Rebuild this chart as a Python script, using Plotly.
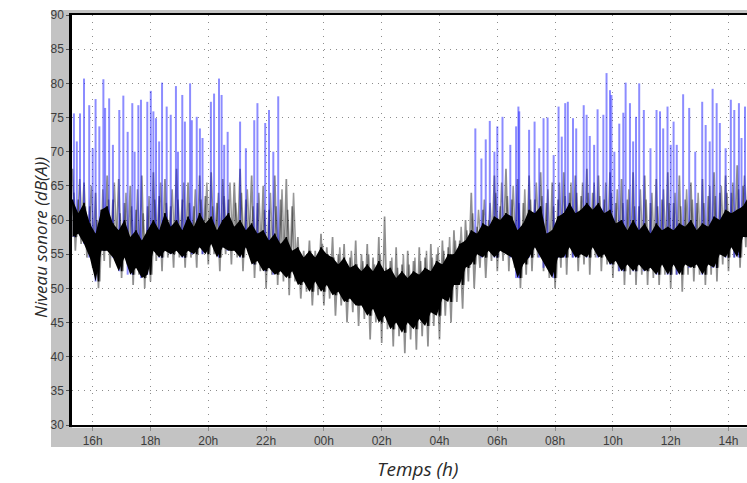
import plotly.graph_objects as go

# ---- Données ----
# grille temporelle (heures depuis minuit du 1er jour), pas de 0,2 h
heures = [round(15.3 + 0.2 * i, 1) for i in range(118)]

# bord inférieur du cœur noir (dB(A))
niveau_bas = [57.5, 58, 56.5, 54.5, 51, 55.5, 55.5, 54.5, 52.5, 54.5,
              52, 53, 51.5, 52, 55.5, 54.5, 55.5, 55, 55.5, 54.5,
              55.5, 55, 56, 55, 56.5, 54.5, 56, 55.5, 55.5, 54.5,
              56, 53.5, 54, 52.5, 53, 52, 52.5, 51.5, 52.5, 50.5,
              51, 49.5, 51, 49.5, 50.5, 49, 49.5, 48, 48.5, 47.5,
              47.5, 46, 47, 45, 46, 44, 45, 43.5, 45, 44,
              45.5, 44.5, 46.5, 46, 48.5, 48, 50.5, 50.5, 53, 53.5,
              55, 54.5, 55.5, 54.5, 55.5, 55, 54.5, 51.5, 53.5, 54.5,
              56, 54.5, 53, 51.5, 54.5, 54.5, 56, 54.5, 55, 54.5,
              56, 54.5, 55, 53.5, 54, 52.5, 53.5, 52.5, 53.5, 52.5,
              53, 52, 53.5, 52, 53.5, 52, 53.5, 53, 53.5, 52,
              53.5, 53, 55, 54.5, 56, 54.5, 57.5, 57.5]

# bord supérieur du cœur noir
niveau_haut = [63, 61, 62.5, 59.5, 58, 61.5, 62, 59.5, 58.5, 60,
               57.5, 58.5, 57, 58.5, 60, 58.5, 61, 59, 60, 58.5,
               60.5, 59, 61, 59.5, 60.5, 58.5, 60, 61, 59, 60,
               58.5, 59.5, 58, 58.5, 57, 58, 56.5, 57.5, 55.5, 56,
               54.5, 55.5, 54.5, 56, 55, 54.5, 53.5, 54.5, 53, 53.5,
               52.5, 53.5, 52.5, 54, 52.5, 53, 51.5, 52.5, 51.5, 52.5,
               52, 53, 52.5, 54, 53.5, 55, 55, 56.5, 57, 58.5,
               58, 59.5, 59, 60.5, 60, 61, 60.5, 58.5, 59.5, 61.5,
               61, 62, 58, 58.5, 60.5, 61, 62.5, 61, 61.5, 62.5,
               61.5, 62.5, 61, 61.5, 59.5, 60, 58.5, 60, 58.5, 59.5,
               58, 59.5, 58.5, 59, 58.5, 59.5, 59, 60, 58.5, 59.5,
               59, 60.5, 60, 61.5, 61, 61.5, 62, 63.5]

# pointes grises basses
pointe_basse = [55.5, 56.5, 54.5, 53, 50, 54, 53, 54, 51.5, 53.5,
                50.5, 52, 50, 51, 54, 52.5, 54.5, 53, 54.5, 53,
                54.5, 53, 55, 53.5, 55, 52.5, 55, 53.5, 54.5, 52.5,
                55, 51.5, 52.5, 50, 52, 50.5, 51, 49, 51, 48.5,
                49.5, 47.5, 49, 47.5, 48.5, 46, 47.5, 45, 46.5, 44.5,
                45.5, 42.5, 45, 42, 44, 41.5, 43, 40.5, 42.5, 41,
                43, 41.5, 44.5, 42.5, 46, 45, 48, 47, 51, 50,
                53, 51.5, 54, 52.5, 54, 52.5, 53, 50, 52, 52.5,
                54.5, 52.5, 51.5, 50, 53, 52, 54.5, 52.5, 53.5, 52,
                54.5, 52.5, 53.5, 51.5, 52.5, 50.5, 52, 50.5, 52, 50.5,
                51.5, 50.5, 52, 50, 52, 49.5, 52, 51, 52, 50.5,
                52, 51, 53.5, 52.5, 54.5, 53, 56, 55.5]

# pointes grises hautes
pointe_haute = [67.5, 63, 65.5, 62, 64, 61.5, 66.5, 63, 66, 62.5,
                65, 61.5, 66.5, 62, 67, 63.5, 66, 62, 67.5, 63,
                65.5, 62, 66.5, 63.5, 67, 62.5, 66, 63, 65.5, 67.5,
                63, 66.5, 62.5, 65, 61.5, 66.5, 63, 66, 62, 57.5,
                55.5, 57, 55.5, 58, 56, 57.5, 55, 56.5, 54.5, 57,
                55, 56.5, 54.5, 57.5, 60.5, 54, 56, 53.5, 55.5, 54,
                56, 54.5, 56.5, 55, 57, 56, 58.5, 57, 60, 64,
                59, 61.5, 60, 66.5, 62, 67.5, 63, 66, 62.5, 66.5,
                63, 67, 62.5, 65.5, 63, 67, 64, 66.5, 63.5, 67.5,
                64, 66.5, 63, 67, 62.5, 66, 63, 67, 62, 66.5,
                62.5, 66, 63, 67, 62.5, 66.5, 63, 65.5, 62.5, 66,
                63.5, 67, 64, 66.5, 64, 68, 65, 69]

# pointes grises intermédiaires
pointe_mi = [64, 66, 62, 65, 60, 64.5, 63, 65.5, 61, 64,
             62, 64.5, 61, 63.5, 63, 65.5, 62.5, 64.5, 63, 65.5,
             62.5, 64.5, 63, 65.5, 62, 64, 63.5, 65.5, 62.5, 64,
             64.5, 62, 64, 61.5, 64, 62, 64.5, 61.5, 64, 55,
             54, 55.5, 54.5, 56.5, 55, 54.5, 56, 54, 55.5, 53.5,
             54, 55, 53.5, 55, 53, 54.5, 53, 55, 53.5, 54.5,
             54, 55.5, 54.5, 56, 55.5, 57.5, 57, 59, 58.5, 61,
             61.5, 63, 62.5, 64, 65.5, 63.5, 65, 62.5, 64.5, 63,
             65.5, 63.5, 64.5, 62, 65.5, 63.5, 65.5, 64, 65.5, 64,
             65.5, 63.5, 65.5, 64, 64.5, 62.5, 64.5, 62, 64.5, 63,
             64, 62, 64.5, 62.5, 64, 62, 64.5, 63, 64, 62.5,
             65, 63.5, 65, 64, 65.5, 64.5, 66.5, 67]

# pics bleus (instant, niveau max)
bleu_t = [15.35, 15.56, 15.70, 15.88, 16.10, 16.23, 16.37, 16.43, 16.57, 16.92,
          17.06, 17.21, 17.37, 17.58, 17.67, 17.89, 18.01, 18.10, 18.19, 18.40,
          18.56, 18.70, 18.88, 19.10, 19.19, 19.37, 19.43, 19.60, 19.71, 20.09,
          20.20, 20.37, 20.46, 20.67, 21.10, 21.59, 21.70, 21.97, 22.10, 22.42,
          15.45, 16.00, 16.70, 17.45, 18.30, 18.95, 19.80, 20.55, 21.30, 22.25,
          29.24, 29.60, 29.74, 30.00, 30.18, 30.65, 30.73, 30.76, 31.10, 31.29,
          31.60, 31.74, 32.12, 32.23, 32.35, 32.44, 32.62, 32.73, 32.99, 33.09,
          33.20, 33.47, 33.67, 33.78, 33.90, 33.95, 34.22, 34.36, 34.44, 34.59,
          34.80, 34.91, 35.07, 35.51, 35.63, 35.74, 35.89, 36.10, 36.21, 36.43,
          36.64, 37.09, 37.21, 37.45, 37.59, 37.70, 38.08, 38.20, 38.36, 38.57,
          29.45, 29.90, 30.45, 31.45, 31.95, 33.35, 34.05, 34.70, 35.30, 36.00,
          36.85, 37.35, 37.90, 38.45]
bleu_max = [75.6, 75.6, 80.7, 76.8, 77.7, 73.7, 80.6, 76.4, 77.8, 76.1,
            78.2, 72.9, 77.1, 76.8, 77.6, 77.3, 78.9, 75.9, 74.9, 80.1,
            76.6, 75.4, 79.6, 78.3, 74.4, 80.0, 74.6, 75.1, 73.4, 77.3,
            78.5, 80.7, 78.3, 72.9, 74.4, 74.6, 77.1, 74.2, 76.1, 78.1,
            71.5, 70.5, 71.0, 70.0, 71.5, 70.0, 72.0, 71.0, 70.5, 70.0,
            73.4, 71.8, 74.5, 73.7, 75.1, 73.7, 76.6, 75.9, 73.2, 74.4,
            74.9, 75.0, 76.6, 72.2, 77.1, 77.3, 74.9, 73.4, 76.8, 75.4,
            72.3, 76.2, 75.4, 81.5, 79.0, 78.3, 74.1, 75.7, 80.1, 77.1,
            75.1, 80.0, 76.1, 76.1, 75.9, 73.4, 76.6, 74.4, 71.0, 78.4,
            76.4, 77.3, 73.9, 79.2, 77.1, 74.2, 77.6, 76.1, 77.1, 76.6,
            69.0, 70.0, 71.0, 70.5, 69.5, 71.0, 70.0, 71.5, 70.5, 71.0,
            70.0, 71.5, 70.5, 72.0]

tick_vals = [16, 18, 20, 22, 24, 26, 28, 30, 32, 34, 36, 38]
tick_text = ["16h", "18h", "20h", "22h", "00h", "02h", "04h", "06h", "08h", "10h", "12h", "14h"]

# ---- Construction des tracés ----
pas = 0.2

x_gris_a, y_gris_a = [], []
for t, hmax, bmin in zip(heures, pointe_haute, pointe_basse):
    x_gris_a += [t, t + pas / 2]
    y_gris_a += [hmax, bmin]

x_gris_b, y_gris_b = [], []
for t, hmi, b in zip(heures, pointe_mi, niveau_bas):
    x_gris_b += [t + pas / 4, t + 3 * pas / 4]
    y_gris_b += [hmi, b]

x_coeur, y_coeur = [], []
for t, h, b in zip(heures, niveau_haut, niveau_bas):
    x_coeur += [t, t + pas / 2]
    y_coeur += [h, b]

x_bleu, y_bleu = [], []
for t, v in zip(bleu_t, bleu_max):
    i = min(range(len(heures)), key=lambda k: abs(heures[k] - t))
    x_bleu += [t, t, None]
    y_bleu += [niveau_bas[i], v, None]

fig = go.Figure()
fig.add_trace(go.Scatter(x=x_gris_a, y=y_gris_a, mode="lines",
                         line=dict(color="rgba(0,0,0,0.44)", width=1.7),
                         hoverinfo="skip", showlegend=False))
fig.add_trace(go.Scatter(x=x_gris_b, y=y_gris_b, mode="lines",
                         line=dict(color="rgba(0,0,0,0.40)", width=1.5),
                         hoverinfo="skip", showlegend=False))
fig.add_trace(go.Scatter(x=x_bleu, y=y_bleu, mode="lines",
                         line=dict(color="rgba(0,0,255,0.45)", width=2),
                         hoverinfo="skip", showlegend=False, connectgaps=False))
fig.add_trace(go.Scatter(x=heures, y=niveau_bas, mode="lines",
                         line=dict(color="black", width=0),
                         hoverinfo="skip", showlegend=False))
fig.add_trace(go.Scatter(x=heures, y=niveau_haut, mode="lines", fill="tonexty",
                         fillcolor="black", line=dict(color="black", width=0),
                         hoverinfo="skip", showlegend=False))
fig.add_trace(go.Scatter(x=x_coeur, y=y_coeur, mode="lines",
                         line=dict(color="black", width=1.6),
                         hoverinfo="skip", showlegend=False))

tick_font = dict(family="Liberation Sans Narrow, Arial Narrow, Liberation Sans, Arial",
                 size=12, color="#3c3c3c")
title_font_y = dict(family="Open Sans, Noto Sans, sans-serif", size=17, color="#2a2a2a",
                    style="italic")
title_font_x = dict(family="Open Sans, Noto Sans, sans-serif", size=19, color="#2a2a2a",
                    style="italic")

fig.update_layout(
    width=747, height=483,
    margin=dict(l=72, r=0, t=15, b=58, pad=0),
    paper_bgcolor="white", plot_bgcolor="white",
    showlegend=False,
    xaxis=dict(range=[15.284, 38.64], tickvals=tick_vals, ticktext=tick_text,
               showgrid=True, gridcolor="#8c8c8c", gridwidth=1, griddash="1px,6px",
               ticks="outside", ticklen=4, tickcolor="#8c8c8c", tickwidth=1,
               showline=True, linecolor="black", linewidth=2, mirror=True,
               zeroline=False, tickfont=tick_font),
    yaxis=dict(range=[30, 90], tick0=30, dtick=5,
               showgrid=True, gridcolor="#8c8c8c", gridwidth=1, griddash="1px,5px",
               ticks="outside", ticklen=3, tickcolor="#555555", tickwidth=1,
               showline=True, linecolor="black", linewidth=2.5, mirror=False,
               zeroline=False, tickfont=tick_font),
    shapes=[
        dict(type="rect", xref="paper", yref="paper",
             x0=(51 - 72) / 675, x1=1.1, y0=(425 - 447) / 410, y1=(425 - 10) / 410,
             fillcolor="#c3c3c3", line=dict(width=0), layer="below"),
        dict(type="rect", xref="paper", yref="paper",
             x0=0, x1=1.1, y0=-0.007, y1=1,
             fillcolor="white", line=dict(width=0), layer="below"),
    ],
    annotations=[
        dict(text="Niveau sonore (dB(A))", xref="paper", yref="paper",
             x=(40 - 72) / 675, y=(425 - 238) / 410, xanchor="center", yanchor="middle",
             textangle=-90, showarrow=False, font=title_font_y),
        dict(text="Temps (h)", xref="paper", yref="paper",
             x=(417 - 72) / 675, y=(425 - 469) / 410, xanchor="center", yanchor="middle",
             showarrow=False, font=title_font_x),
    ],
)

fig.write_html("out.html")
